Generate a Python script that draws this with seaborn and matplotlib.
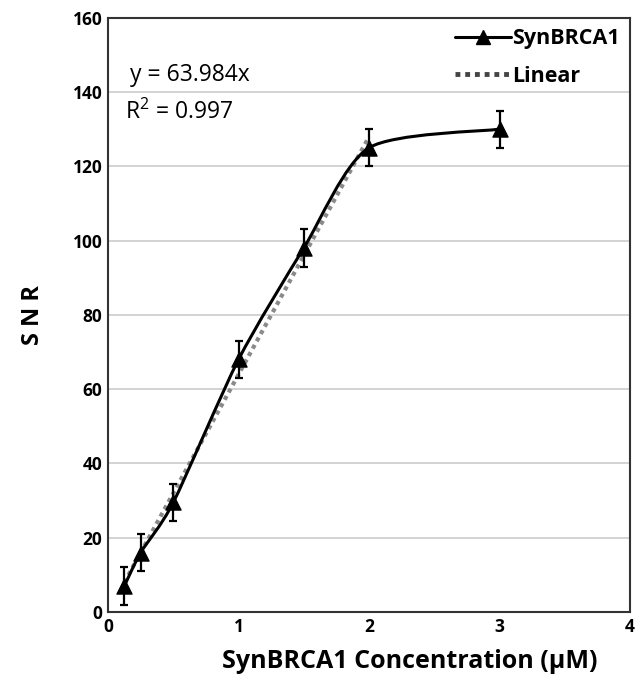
import numpy as np
import pandas as pd
import matplotlib
matplotlib.use("Agg")
import matplotlib.pyplot as plt
import seaborn as sns
from matplotlib.path import Path
from matplotlib.patches import PathPatch
from matplotlib.lines import Line2D

conc = [0.125, 0.25, 0.5, 1.0, 1.5, 2.0, 3.0]
snr = [7, 16, 29.5, 68, 98, 125, 130]
err = [5, 5, 5, 5, 5, 5, 5]
lin_x = [0.125, 2.0]
slope = 63.984
eq_text = "y = 63.984x"
r2_text = "R$^2$ = 0.997"
xticks = [0, 1, 2, 3, 4]
yticks = [0, 20, 40, 60, 80, 100, 120, 140, 160]

sns.set_theme(style="white")
plt.rcParams['font.family'] = ['Open Sans', 'DejaVu Sans']
plt.rcParams['text.color'] = 'black'
plt.rcParams['axes.labelcolor'] = 'black'
plt.rcParams['xtick.color'] = 'black'
plt.rcParams['ytick.color'] = 'black'
plt.rcParams['mathtext.fontset'] = 'custom'
plt.rcParams['mathtext.rm'] = 'Open Sans'

fig = plt.figure(figsize=(6.43, 6.82), dpi=100)
ax = fig.add_axes([0.168, 0.1026, 0.812, 0.8714])

# linear fit (dotted gray)
lin_df = pd.DataFrame({"x": lin_x, "y": [slope * v for v in lin_x]})
sns.lineplot(data=lin_df, x="x", y="y", ax=ax, color="#8a8a8a", lw=3,
             linestyle=(0, (1, 1)), zorder=2)

# smoothed series line (Excel-style Bezier smoothing)
P = np.column_stack([conc, snr])
verts = [tuple(P[0])]
codes = [Path.MOVETO]
n = len(P)
for i in range(n - 1):
    p0 = P[i - 1] if i > 0 else P[i]
    p1 = P[i]
    p2 = P[i + 1]
    p3 = P[i + 2] if i + 2 < n else P[i + 1]
    c1 = p1 + (p2 - p0) / 8.0
    c2 = p2 - (p3 - p1) / 8.0
    verts += [tuple(c1), tuple(c2), tuple(p2)]
    codes += [Path.CURVE4] * 3
ax.add_patch(PathPatch(Path(verts, codes), facecolor="none", edgecolor="black",
                       lw=2.2, zorder=3))

ax.errorbar(conc, snr, yerr=err, fmt="none", ecolor="black", elinewidth=1.6,
            capsize=3, capthick=1.6, zorder=4)
sns.scatterplot(x=conc, y=snr, ax=ax, marker="^", s=120, color="black",
                edgecolor="black", zorder=5)

ax.set_xlim(0, 4)
ax.set_ylim(0, 160)
ax.set_xticks(xticks)
ax.set_yticks(yticks)
ax.set_xticklabels([str(v) for v in xticks], fontsize=12.5, fontweight="bold")
ax.set_yticklabels([str(v) for v in yticks], fontsize=12.5, fontweight="bold")
ax.tick_params(axis="both", length=0, pad=4)
ax.yaxis.grid(True, color="#cccccc", lw=1.2)
ax.set_axisbelow(True)
for s in ax.spines.values():
    s.set_color("#333333")
    s.set_linewidth(1.5)

ax.set_xlabel("SynBRCA1 Concentration (µM)", fontsize=18, fontweight="bold")
ax.xaxis.set_label_coords(0.578, -0.063)
ax.set_ylabel("S N R", fontsize=17, fontweight="bold", labelpad=20)

ax.text(0.17, 144.5, eq_text, fontsize=16.5, va="center", ha="left")
ax.text(0.13, 134.5, r2_text, fontsize=16.5, va="center", ha="left")

handles = [
    Line2D([0], [0], color="black", lw=2.2, marker="^", markersize=10),
    Line2D([0], [0], color="#444444", lw=3.5, linestyle=(0, (1, 1))),
]
leg = ax.legend(handles, ["SynBRCA1", "Linear"], loc="upper right",
                frameon=False, handlelength=2.6, handletextpad=0.05,
                borderaxespad=0.1, labelspacing=0.75,
                prop={"weight": "bold", "size": 15.5})

fig.savefig("out.png", dpi=100)
